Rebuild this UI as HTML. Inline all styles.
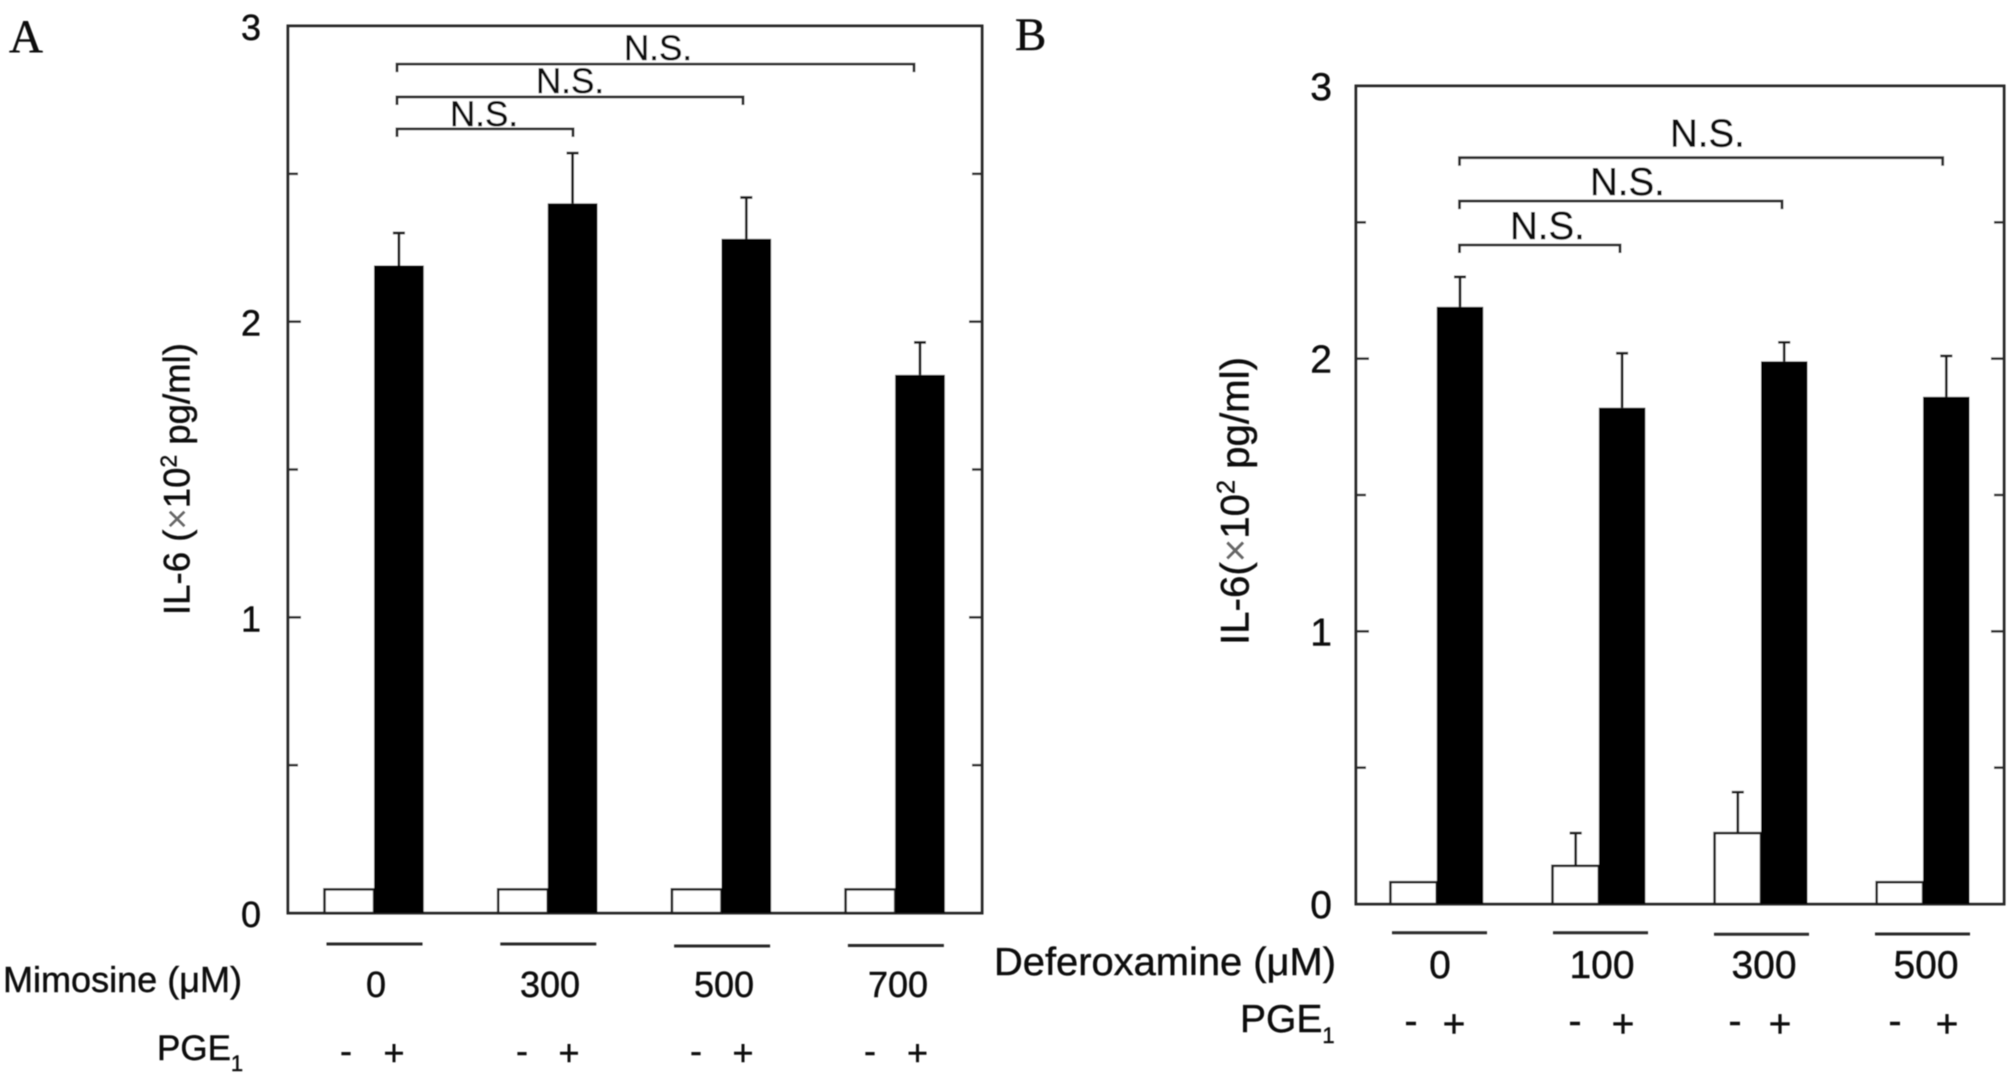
<!DOCTYPE html>
<html lang="en">
<head>
<meta charset="utf-8">
<title>IL-6 production with Mimosine and Deferoxamine</title>
<style>
html,body{margin:0;padding:0;background:#fff;width:2008px;height:1083px;overflow:hidden}
svg{display:block;font-family:"Liberation Sans",sans-serif;fill:#111}
svg text{stroke:#111;stroke-width:0.45px}
.serif{font-family:"Liberation Serif",serif}
</style>
</head>
<body>
<svg id="figure" xmlns="http://www.w3.org/2000/svg" width="2008" height="1083" viewBox="0 0 2008 1083">
<defs><filter id="soft" x="-2%" y="-2%" width="104%" height="104%"><feGaussianBlur stdDeviation="0.55"/></filter></defs>
<rect x="0" y="0" width="2008" height="1083" fill="#fff"/>
<g id="root" filter="url(#soft)">
  <text class="serif" x="9" y="52" font-size="47">A</text>
  <text class="serif" x="1015" y="50" font-size="47">B</text>

  <g id="panelA"></g>
  <g id="panelB"></g>

  <text transform="translate(189.5,615) rotate(-90)" font-size="37" textLength="272" lengthAdjust="spacingAndGlyphs">IL-6 (<tspan fill="#666" stroke="none">×</tspan>10<tspan dy="-13" font-size="23">2</tspan><tspan dy="13"> pg/ml)</tspan></text>
  <text transform="translate(1248.5,645) rotate(-90)" font-size="40" textLength="288" lengthAdjust="spacingAndGlyphs">IL-6(<tspan fill="#666" stroke="none">×</tspan>10<tspan dy="-14" font-size="25">2</tspan><tspan dy="14"> pg/ml)</tspan></text>

  <text x="3" y="992" font-size="36" textLength="239" lengthAdjust="spacingAndGlyphs">Mimosine (μM)</text>
  <text x="157" y="1060" font-size="35">PGE<tspan font-size="22" dy="11">1</tspan></text>
  <text x="994" y="975" font-size="39" textLength="342" lengthAdjust="spacingAndGlyphs">Deferoxamine (μM)</text>
  <text x="1240" y="1032" font-size="39">PGE<tspan font-size="22" dy="11">1</tspan></text>
</g>
</svg>
<script>
// ---------- Chart data ----------
const yTickLabels = [0, 1, 2, 3];
const yMinorTicks = [0.5, 1.5, 2.5];
const pgeSigns = ['-', '+'];

const mimosineDoses = ['0', '300', '500', '700'];
const mimosineControl = [0.08, 0.08, 0.08, 0.08];
const mimosinePge = [2.19, 2.40, 2.28, 1.82];
const mimosinePgeErrorTop = [2.30, 2.57, 2.42, 1.93];
const mimosineControlErrorTop = [null, null, null, null];
const mimosineBracketLevels = [2.652, 2.76, 2.871];

const deferoxamineDoses = ['0', '100', '300', '500'];
const deferoxamineControl = [0.08, 0.14, 0.26, 0.08];
const deferoxaminePge = [2.19, 1.82, 1.99, 1.86];
const deferoxaminePgeErrorTop = [2.30, 2.02, 2.06, 2.01];
const deferoxamineControlErrorTop = [null, 0.26, 0.41, null];
const deferoxamineBracketLevels = [2.417, 2.578, 2.737];
const bracketLabel = 'N.S.';

// ---------- Layout ----------
const NS = 'http://www.w3.org/2000/svg';
function mk(parent, tag, attrs, text) {
  const el = document.createElementNS(NS, tag);
  for (const k in attrs) el.setAttribute(k, attrs[k]);
  if (text !== undefined) el.textContent = text;
  parent.appendChild(el);
  return el;
}

function drawPanel(cfg) {
  const g = document.getElementById(cfg.id);
  const yScale = v => cfg.bottom - v * (cfg.bottom - cfg.top) / 3;
  const groupX = i => cfg.firstBar + i * cfg.step;

  // plot frame
  const frame = mk(g, 'path', {
    d: `M${cfg.left} ${cfg.top}H${cfg.right}V${cfg.bottom}H${cfg.left}Z`,
    fill: '#fff', stroke: '#2c2c2c', 'stroke-width': 3
  });
  
  

  // ticks
  yTickLabels.forEach(v => {
    const y = yScale(v);
    if (v > 0 && v < 3) {
      const l = mk(g, 'path', {
        d: `M${cfg.left} ${y}h13M${cfg.right} ${y}h-13`, stroke: '#2c2c2c', 'stroke-width': 2.6, fill: 'none'
      });
      
      
    }
    const t = mk(g, 'text', {
      x: cfg.labelRight, y: y + 14, 'text-anchor': 'end', 'font-size': cfg.font
    }, String(v));
    
    
  });
  yMinorTicks.forEach(v => {
    const y = yScale(v);
    const l = mk(g, 'path', {
      d: `M${cfg.left} ${y}h10M${cfg.right} ${y}h-10`, stroke: '#2c2c2c', 'stroke-width': 2.6, fill: 'none'
    });
    
    
  });

  // bars
  cfg.doses.forEach((dose, i) => {
    const x0 = groupX(i);
    const whiteTop = yScale(cfg.control[i]);
    const wBar = mk(g, 'rect', {
      x: x0, y: whiteTop, width: cfg.barW, height: cfg.bottom - whiteTop,
      fill: '#fff', stroke: '#222', 'stroke-width': 2.6
    });
    
    

    if (cfg.controlErr[i] !== null) {
      const cx = x0 + cfg.barW / 2;
      const ey = yScale(cfg.controlErr[i]);
      const e = mk(g, 'path', {
        d: `M${cx} ${whiteTop}V${ey}M${cx - 6} ${ey}h12`, stroke: '#1a1a1a', 'stroke-width': 2.7, fill: 'none'
      });
      
      
    }

    const bx = x0 + cfg.barW;
    const blackTop = yScale(cfg.pge[i]);
    const bBar = mk(g, 'rect', {
      x: bx, y: blackTop, width: cfg.barW, height: cfg.bottom - blackTop, fill: '#000'
    });
    
    

    const cx = bx + cfg.barW / 2;
    const ey = yScale(cfg.pgeErr[i]);
    const e = mk(g, 'path', {
      d: `M${cx} ${blackTop}V${ey}M${cx - 6} ${ey}h12`, stroke: '#1a1a1a', 'stroke-width': 2.7, fill: 'none'
    });
    
    

    // group underline, dose, PGE signs
    const u = mk(g, 'line', {
      x1: cfg.underX + i * cfg.underStep, x2: cfg.underX + i * cfg.underStep + cfg.underW,
      y1: cfg.underY[i], y2: cfg.underY[i], stroke: '#2c2c2c', 'stroke-width': 3
    });
    
    

    const d = mk(g, 'text', {
      x: cfg.doseX + i * cfg.doseStep, y: cfg.doseY, 'text-anchor': 'middle', 'font-size': cfg.font
    }, dose);
    
    

    pgeSigns.forEach((sign, s) => {
      const t = mk(g, 'text', {
        x: cfg.signX[s][i],
        y: cfg.signY[s],
        'text-anchor': 'middle', 'font-size': cfg.font
      }, sign);
      
      
    });
  });

  // significance brackets
  cfg.levels.forEach((v, k) => {
    const y = yScale(v);
    const x2 = cfg.bracketEnds[k];
    const p = mk(g, 'path', {
      d: `M${cfg.bracketStart} ${y + 8}V${y}H${x2}V${y + 8}`, fill: 'none', stroke: '#2c2c2c', 'stroke-width': 2.8
    });
    
    
    const t = mk(g, 'text', {
      x: cfg.nsX[k], y: y + cfg.nsDy[k], 'font-size': cfg.nsFont
    }, bracketLabel);
    
    
  });
}

drawPanel({
  id: 'panelA', prefix: 'panel-a',
  left: 288, right: 982, top: 26, bottom: 913,
  labelRight: 261, font: 36,
  firstBar: 324.5, step: 173.7, barW: 49.6,
  doses: mimosineDoses, control: mimosineControl, pge: mimosinePge,
  pgeErr: mimosinePgeErrorTop, controlErr: mimosineControlErrorTop,
  underX: 326.5, underStep: 173.8, underW: 96, underY: [944, 944, 946, 945.5],
  doseX: 376, doseStep: 174, doseY: 997,
  signX: [[346, 522, 696, 870], [394, 569, 743, 917.5]], signY: [1063, 1065],
  levels: mimosineBracketLevels,
  bracketStart: 397, bracketEnds: [573, 743, 914],
  nsX: [450, 536, 624], nsDy: [-3, -4, -4], nsFont: 35
});

drawPanel({
  id: 'panelB', prefix: 'panel-b',
  left: 1356, right: 2004, top: 86, bottom: 904,
  labelRight: 1332, font: 39,
  firstBar: 1390.4, step: 162.1, barW: 46.4,
  doses: deferoxamineDoses, control: deferoxamineControl, pge: deferoxaminePge,
  pgeErr: deferoxaminePgeErrorTop, controlErr: deferoxamineControlErrorTop,
  underX: 1392, underStep: 161, underW: 95, underY: [932.7, 932.7, 934.3, 934],
  doseX: 1440, doseStep: 162, doseY: 978,
  signX: [[1411, 1575, 1735, 1895], [1454, 1623, 1780, 1947]], signY: [1034, 1037],
  levels: deferoxamineBracketLevels,
  bracketStart: 1459.5, bracketEnds: [1620, 1782, 1942.7],
  nsX: [1510, 1590, 1670], nsDy: [-6, -6, -11], nsFont: 38.5
});
</script>
</body>
</html>
